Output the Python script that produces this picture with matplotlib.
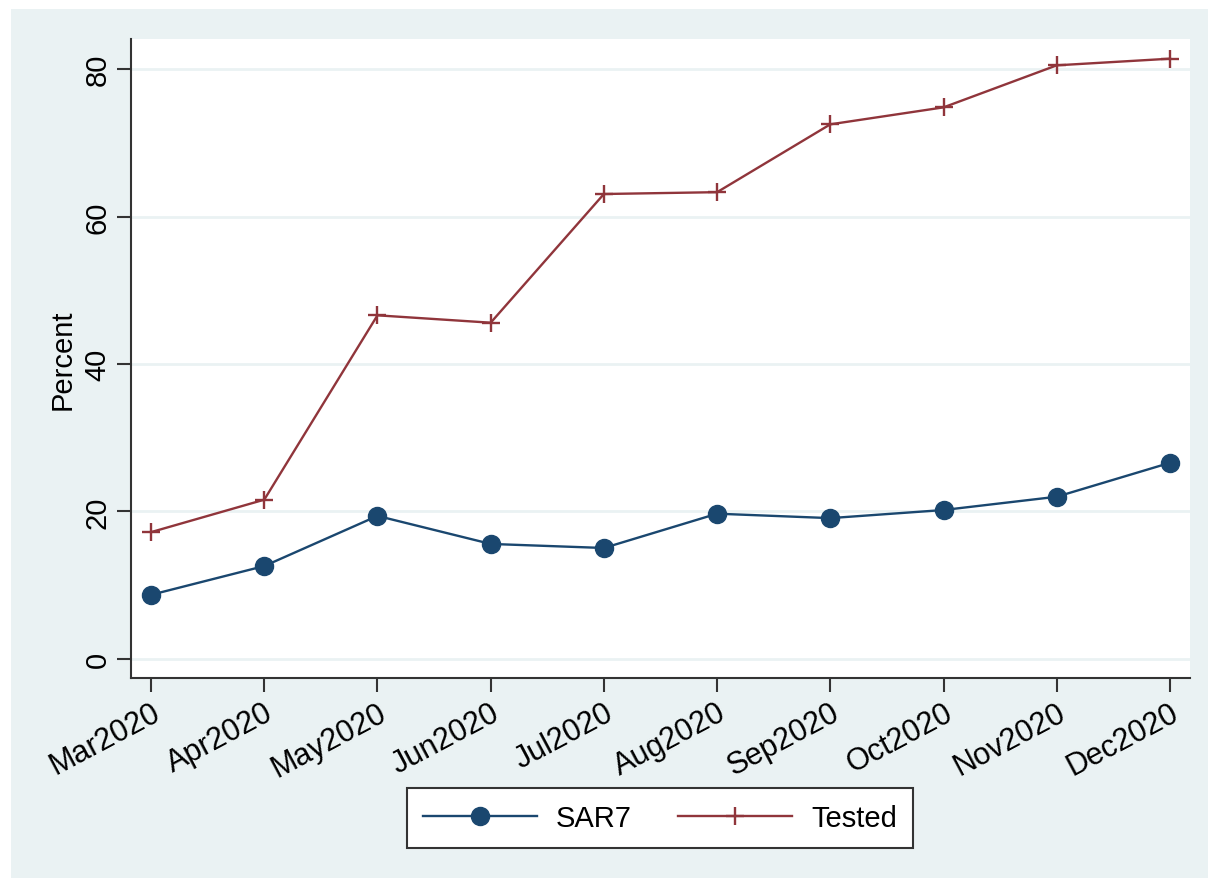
import numpy as np
import matplotlib.pyplot as plt
from matplotlib.patches import Rectangle

months = ['Mar2020', 'Apr2020', 'May2020', 'Jun2020', 'Jul2020',
          'Aug2020', 'Sep2020', 'Oct2020', 'Nov2020', 'Dec2020']
sar7 = [8.7, 12.6, 19.4, 15.6, 15.05, 19.7, 19.1, 20.2, 22.0, 26.6]
tested = [17.2, 21.6, 46.6, 45.6, 63.05, 63.3, 72.5, 74.8, 80.5, 81.4]
yticks = [0, 20, 40, 60, 80]

navy = '#1a476f'
maroon = '#90353b'
bg = '#eaf2f3'

plt.rcParams['font.family'] = ['Liberation Sans', 'DejaVu Sans']
fs = 21

W, H = 1208, 879
fig = plt.figure(figsize=(W / 100, H / 100), dpi=100)
fig.patches.append(Rectangle((11 / W, 0), 1 - 11 / W, 1 - 10 / H,
                             transform=fig.transFigure, facecolor=bg,
                             edgecolor='none', zorder=-10))

ax = fig.add_axes([131 / W, 1 - 679 / H, (1190 - 131) / W, (679 - 40) / H])
ax.set_facecolor('white')

x = np.arange(len(months))
ax.plot(x, sar7, color=navy, lw=1.7, marker='o', ms=13, label='SAR7')
ax.plot(x, tested, color=maroon, lw=1.7, marker='+', ms=13, mew=1.7,
        label='Tested')

ax.set_xlim(-0.177, 9.177)
ax.set_ylim(-2.58, 84.07)
ax.set_yticks(yticks)
ax.set_xticks(x)
ax.set_xticklabels(months, rotation=28, ha='right', rotation_mode='anchor',
                   fontsize=22)
ax.set_yticklabels([str(v) for v in yticks], rotation=90, va='center',
                   fontsize=fs)
ax.yaxis.grid(True, color=bg, lw=2)
ax.set_axisbelow(True)
ax.tick_params(length=10, width=1.5, color='#333333', pad=4)
ax.set_ylabel('Percent', fontsize=fs, labelpad=5)

for s in ['top', 'right']:
    ax.spines[s].set_visible(False)
for s in ['left', 'bottom']:
    ax.spines[s].set_color('#333333')
    ax.spines[s].set_linewidth(1.5)

leg = fig.legend(loc='center', bbox_to_anchor=((403 + 917) / 2 / W, 1 - 819 / H),
                 ncol=2, fontsize=fs, handlelength=3.9, handletextpad=0.65,
                 columnspacing=1.6, fancybox=False, borderpad=0.55,
                 framealpha=1, facecolor='white')
leg.get_frame().set_edgecolor('#333333')
leg.get_frame().set_linewidth(1.5)

fig.savefig('out.png', dpi=100)
